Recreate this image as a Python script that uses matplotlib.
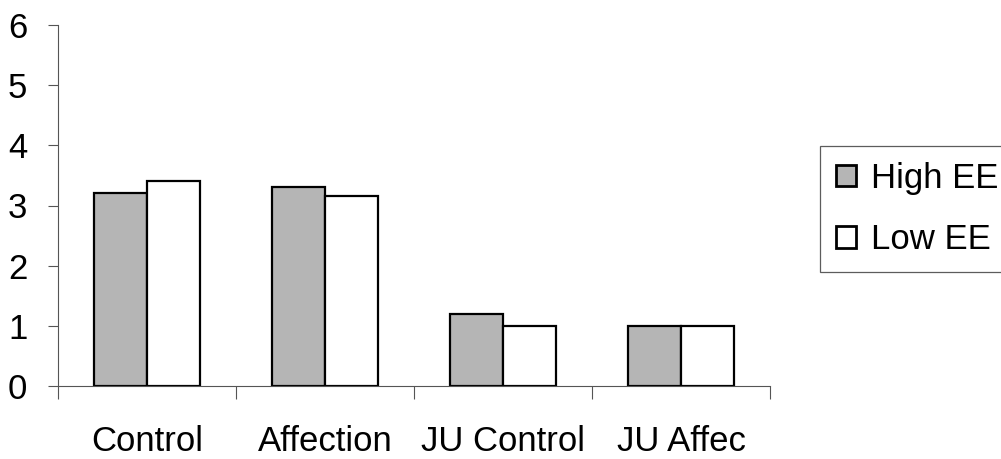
import matplotlib
matplotlib.use("Agg")
import matplotlib.pyplot as plt
import numpy as np

categories = ["Control", "Affection", "JU Control", "JU Affec"]
high_ee = [3.2, 3.3, 1.2, 1.0]
low_ee = [3.4, 3.15, 1.0, 1.0]
yticks = [0, 1, 2, 3, 4, 5, 6]

plt.rcParams['font.family'] = ['Liberation Sans', 'DejaVu Sans']

W, H = 1001, 459
fig = plt.figure(figsize=(W / 100, H / 100), dpi=100)
ax = fig.add_axes([58 / W, 1 - 386 / H, (770 - 58) / W, (386 - 25) / H])

x = np.arange(len(categories))
bw = 0.3
ax.bar(x - bw / 2, high_ee, bw, color="#b5b5b5", edgecolor="black", linewidth=1.6, label="High EE")
ax.bar(x + bw / 2, low_ee, bw, color="white", edgecolor="black", linewidth=1.6, label="Low EE")

ax.set_xlim(-0.5, len(categories) - 0.5)
ax.set_ylim(0, 6)
ax.set_yticks(yticks)
ax.set_yticklabels([str(v) for v in yticks], fontsize=25)

ax.set_xticks(np.arange(len(categories) + 1) - 0.5)
ax.set_xticklabels([])
ax.set_xticks(x, minor=True)
ax.set_xticklabels(categories, minor=True, fontsize=25)
ax.tick_params(axis="x", which="major", direction="out", length=9, width=0.8, color="#555555")
ax.tick_params(axis="x", which="minor", length=0, pad=28)
ax.tick_params(axis="y", direction="out", length=7, width=0.8, color="#555555", pad=15)

for s in ["top", "right"]:
    ax.spines[s].set_visible(False)
ax.spines["left"].set_color("#555555")
ax.spines["bottom"].set_color("#555555")
ax.spines["left"].set_linewidth(0.8)
ax.spines["bottom"].set_linewidth(0.8)

leg = ax.legend(loc="upper left", bbox_to_anchor=(820 / W, 1 - 146 / H),
                bbox_transform=fig.transFigure, fontsize=25, frameon=True,
                fancybox=False, edgecolor="#333333", handlelength=0.58,
                handleheight=0.58, handletextpad=0.45, labelspacing=0.83,
                borderpad=0.45, borderaxespad=0)
leg.get_frame().set_linewidth(0.9)
for h in leg.legend_handles:
    h.set_linewidth(2.0)

fig.savefig("out.png", dpi=100)
